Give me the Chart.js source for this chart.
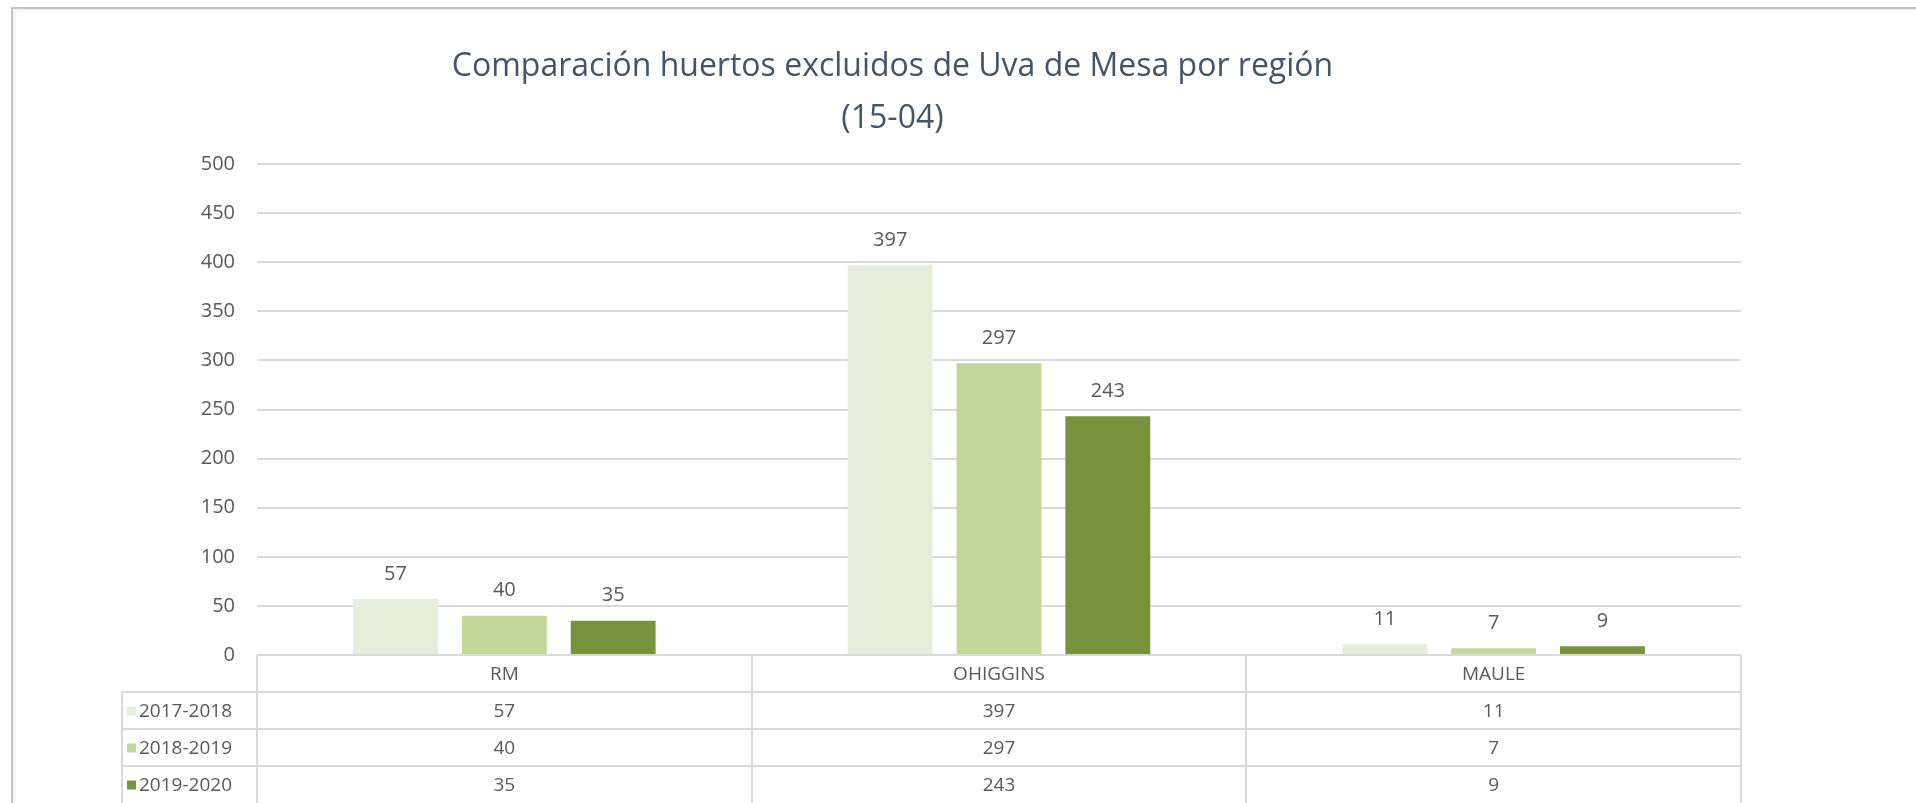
<!DOCTYPE html>
<html>
<head>
<meta charset="utf-8">
<script src="https://cdn.jsdelivr.net/npm/chart.js@4/dist/chart.umd.min.js"></script>
<style>
  body { margin: 0; background: #fff; overflow: hidden; }
  #wrap { position: relative; width: 1916px; height: 803px; }
  #frame {
    position: absolute; left: 11px; top: 7px; right: -10px; bottom: -10px;
    border-top: 2px solid #c4c4c4; border-left: 2px solid #c4c4c4;
    box-shadow: inset 2px 2px 3px rgba(0,0,0,0.06);
    pointer-events: none;
  }
</style>
</head>
<body>
<div id="wrap">
  <canvas id="chart" width="1916" height="803"></canvas>
  <div id="frame"></div>
</div>
<script>
const regions = ["RM", "OHIGGINS", "MAULE"];
const seasons = ["2017-2018", "2018-2019", "2019-2020"];
const values2017 = [57, 397, 11];
const values2018 = [40, 297, 7];
const values2019 = [35, 243, 9];
const seriesColors = ["#e6eddb", "#c4d79b", "#77933c"];
const titleLines = ["Comparación huertos excluidos de Uva de Mesa por región", "(15-04)"];

const textColor = "#595959";
const lineColor = "#d9d9d9";
const fontFamily = "'Open Sans', sans-serif";

// value labels above each bar
const barLabels = {
  id: "barLabels",
  afterDatasetsDraw(chart) {
    const ctx = chart.ctx;
    ctx.save();
    ctx.font = "20px " + fontFamily;
    ctx.fillStyle = textColor;
    ctx.textAlign = "center";
    ctx.textBaseline = "middle";
    chart.data.datasets.forEach((ds, i) => {
      chart.getDatasetMeta(i).data.forEach((bar, j) => {
        ctx.fillText(ds.data[j], bar.x, bar.y - 25);
      });
    });
    ctx.restore();
  }
};

// data table under the plot
const dataTable = {
  id: "dataTable",
  afterDraw(chart) {
    const ctx = chart.ctx;
    const area = chart.chartArea;
    const xScale = chart.scales.x;
    const catW = (area.right - area.left) / regions.length;
    const rowH = 37;
    const top = area.bottom;
    const tableLeft = 122;
    const rows = seasons.length;
    const bottom = top + rowH * (rows + 1);

    ctx.save();
    ctx.strokeStyle = lineColor;
    ctx.lineWidth = 2;
    ctx.beginPath();
    for (let k = 0; k <= regions.length; k++) {
      const x = Math.round(area.left + k * catW);
      ctx.moveTo(x, top);
      ctx.lineTo(x, bottom);
    }
    ctx.moveTo(tableLeft, top + rowH);
    ctx.lineTo(tableLeft, bottom);
    for (let r = 1; r <= rows; r++) {
      const y = top + r * rowH;
      ctx.moveTo(tableLeft, y);
      ctx.lineTo(area.right, y);
    }
    ctx.stroke();

    ctx.font = "19px " + fontFamily;
    ctx.fillStyle = textColor;
    ctx.textBaseline = "middle";
    ctx.textAlign = "center";
    regions.forEach((name, i) => {
      ctx.fillText(name, xScale.getPixelForValue(i), top + rowH / 2 + 1);
    });
    chart.data.datasets.forEach((ds, r) => {
      const y = top + rowH * (r + 1) + rowH / 2 + 1;
      ctx.textAlign = "center";
      ctx.fillStyle = textColor;
      ds.data.forEach((v, i) => ctx.fillText(v, xScale.getPixelForValue(i), y));
      ctx.fillStyle = ds.backgroundColor;
      ctx.fillRect(127, y - 5, 9, 9);
      ctx.fillStyle = textColor;
      ctx.textAlign = "left";
      ctx.fillText(ds.label, 139, y);
    });
    ctx.restore();
  }
};

new Chart(document.getElementById("chart"), {
  type: "bar",
  data: {
    labels: regions,
    datasets: [
      { label: seasons[0], data: values2017, backgroundColor: seriesColors[0] },
      { label: seasons[1], data: values2018, backgroundColor: seriesColors[1] },
      { label: seasons[2], data: values2019, backgroundColor: seriesColors[2] }
    ]
  },
  options: {
    responsive: false,
    animation: false,
    categoryPercentage: 0.66,
    barPercentage: 0.78,
    layout: { padding: { top: 0, left: 44, right: 175, bottom: 0 } },
    plugins: {
      legend: { display: false },
      tooltip: { enabled: false },
      title: {
        display: true,
        text: titleLines,
        color: "#44546a",
        font: { family: fontFamily, size: 32, weight: "normal", lineHeight: 52 / 32 },
        padding: { top: 41, bottom: 19 }
      }
    },
    scales: {
      x: {
        grid: { display: false },
        border: { display: false },
        ticks: { display: false },
        afterFit: (scale) => { scale.height = 148; }
      },
      y: {
        min: 0,
        max: 500,
        ticks: {
          stepSize: 50,
          color: textColor,
          padding: 22,
          font: { family: fontFamily, size: 20 }
        },
        grid: { color: lineColor, lineWidth: 2, drawTicks: false },
        border: { display: false },
        afterFit: (scale) => { scale.width = 213; }
      }
    }
  },
  plugins: [barLabels, dataTable]
});
</script>
</body>
</html>
